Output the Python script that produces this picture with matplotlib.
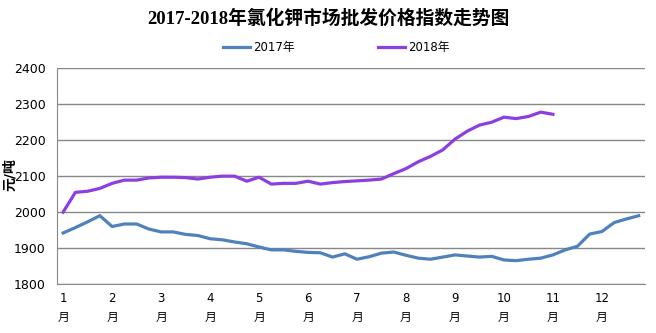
import matplotlib
matplotlib.use("Agg")
import matplotlib.pyplot as plt
import numpy as np

# weekly index values, 4 points per month
v2017 = [1942, 1957, 1973, 1990, 1960, 1967, 1967, 1953,
         1945, 1945, 1938, 1935, 1926, 1923, 1917, 1912,
         1903, 1895, 1895, 1891, 1888, 1887, 1875, 1884,
         1869, 1876, 1886, 1889, 1880, 1872, 1869, 1875,
         1881, 1878, 1875, 1877, 1867, 1865, 1869, 1872,
         1881, 1895, 1905, 1939, 1946, 1971, 1981, 1990]
v2018 = [2000, 2055, 2058, 2066, 2080, 2089, 2089, 2095,
         2097, 2097, 2096, 2092, 2097, 2100, 2100, 2086,
         2097, 2078, 2080, 2080, 2086, 2078, 2082, 2085,
         2087, 2089, 2092, 2107, 2121, 2140, 2155, 2173,
         2203, 2225, 2242, 2250, 2264, 2260, 2266, 2278,
         2272]
months = [f"{m}\n月" for m in range(1, 13)]
series_names = ["2017年", "2018年"]

CJK = ["DejaVu Sans", "Noto Sans CJK SC"]
plt.rcParams["font.family"] = CJK

fig = plt.figure(figsize=(6.56, 3.33), dpi=100)
ax = fig.add_axes([0.0869, 0.147, 0.896, 0.648])

ax.plot(np.arange(len(v2017)), v2017, color="#4f81bd", lw=2.3, label=series_names[0],
        solid_joinstyle="round")
ax.plot(np.arange(len(v2018)), v2018, color="#8b3fe0", lw=2.3, label=series_names[1],
        solid_joinstyle="round")

ax.set_xlim(-0.5, 47.5)
ax.set_ylim(1800, 2400)
ax.set_yticks(np.arange(1800, 2401, 100))
ax.set_xticks(np.arange(0, 48, 4))
ax.set_xticklabels(months, fontsize=8.5, linespacing=1.6)
ax.tick_params(axis="y", labelsize=9, length=0, pad=8)
ax.tick_params(axis="x", length=0, pad=6)

ax.grid(axis="y", color="#888888", lw=1)
ax.set_axisbelow(True)
for s in ["top", "right"]:
    ax.spines[s].set_visible(False)
for s in ["left", "bottom"]:
    ax.spines[s].set_color("#888888")

fig.text(10 / 656, 1 - 175 / 333, "元/吨", rotation=90, ha="center", va="center",
         fontsize=10, fontweight="bold")

fig.text(0.5, 0.945, "2017-2018年氯化钾市场批发价格指数走势图", ha="center", va="center",
         fontsize=13.5, fontweight="bold", family=["Liberation Serif", "Noto Sans CJK SC"])

ax.legend(loc="center", bbox_to_anchor=(0.475, 1.097), ncol=2, frameon=False,
          fontsize=8.5, handlelength=2.3, columnspacing=7, handletextpad=0.3)

fig.savefig("out.png", dpi=100)
